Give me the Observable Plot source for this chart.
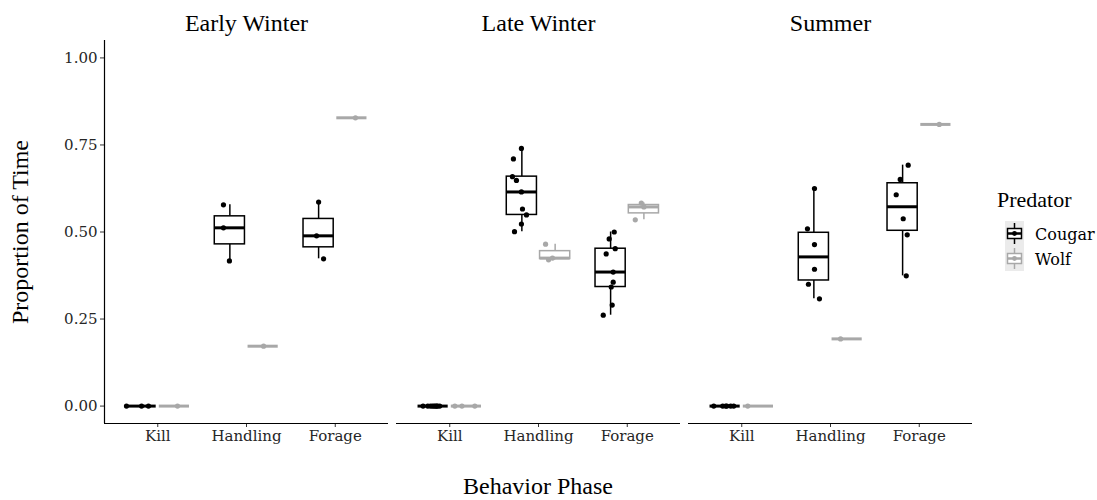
<!DOCTYPE html>
<html><head><meta charset="utf-8">
<script src="https://cdn.jsdelivr.net/npm/d3@7"></script>
<script src="https://cdn.jsdelivr.net/npm/@observablehq/plot@0.6"></script>
<style>
body{margin:0;background:#fff;}
#wrap{position:relative;width:1097px;height:500px;}
</style></head><body><div id="wrap"></div>
<script>
// ---------- data ----------
const seasons = ["Early Winter", "Late Winter", "Summer"];
const behaviors = ["Kill", "Handling", "Forage"];
const predators = ["Cougar", "Wolf"];
const yTicks = [0, 0.25, 0.5, 0.75, 1];

// proportion of time, per behavior (Kill, Handling, Forage)
const cougarEarlyWinter = [[0, 0, 0], [0.578, 0.512, 0.417], [0.586, 0.489, 0.423]];
const wolfEarlyWinter = [[0], [0.172], [0.828]];
const cougarLateWinter = [
  [0, 0, 0, 0, 0, 0, 0, 0, 0],
  [0.740, 0.710, 0.659, 0.648, 0.615, 0.566, 0.549, 0.523, 0.501],
  [0.500, 0.480, 0.452, 0.437, 0.385, 0.356, 0.342, 0.290, 0.261]
];
const wolfLateWinter = [[0, 0, 0], [0.465, 0.420, 0.425], [0.583, 0.535, 0.572]];
const cougarSummer = [
  [0, 0, 0, 0, 0, 0],
  [0.625, 0.509, 0.464, 0.393, 0.350, 0.308],
  [0.692, 0.651, 0.607, 0.538, 0.492, 0.374]
];
const wolfSummer = [[0], [0.193], [0.809]];

// horizontal jitter of each point (in category units)
const jitterCougarEarlyWinter = [[-0.165, 0.005, 0.083], [-0.072, -0.072, -0.005], [0, -0.023, 0.056]];
const jitterWolfEarlyWinter = [[0.035], [0.005], [0.04]];
const jitterCougarLateWinter = [
  [-0.113, -0.008, 0.026, 0.074, 0.05, -0.06, 0.01, 0.04, -0.03],
  [-0.005, -0.095, -0.106, -0.061, -0.005, 0.007, 0.052, -0.005, -0.083],
  [0.041, -0.016, 0.052, -0.05, 0.029, 0.029, 0.007, 0.018, -0.083]
];
const jitterWolfLateWinter = [[-0.13, -0.05, 0.095], [-0.108, -0.074, -0.03], [-0.029, -0.097, 0]];
const jitterCougarSummer = [
  [-0.128, -0.027, 0.007, 0.063, 0.097, 0.02],
  [0.007, -0.072, 0.007, 0.007, -0.061, 0.063],
  [0.063, -0.027, -0.072, 0.007, 0.052, 0.041]
];
const jitterWolfSummer = [[-0.12], [-0.074], [0.038]];

// ---------- build tables ----------
const groups = [
  {season: seasons[0], predator: "Cougar", values: cougarEarlyWinter, jitter: jitterCougarEarlyWinter},
  {season: seasons[0], predator: "Wolf", values: wolfEarlyWinter, jitter: jitterWolfEarlyWinter},
  {season: seasons[1], predator: "Cougar", values: cougarLateWinter, jitter: jitterCougarLateWinter},
  {season: seasons[1], predator: "Wolf", values: wolfLateWinter, jitter: jitterWolfLateWinter},
  {season: seasons[2], predator: "Cougar", values: cougarSummer, jitter: jitterCougarSummer},
  {season: seasons[2], predator: "Wolf", values: wolfSummer, jitter: jitterWolfSummer}
];
const dodge = {Cougar: -0.1875, Wolf: 0.1875};
const halfBox = 0.17;
const colors = ["#000000", "#a8a8a8"];
const points = [], boxes = [];
for (const g of groups) {
  behaviors.forEach((b, i) => {
    const vals = g.values[i];
    const center = i + 1 + dodge[g.predator];
    vals.forEach((v, k) => points.push({season: g.season, predator: g.predator, x: center + g.jitter[i][k], y: v}));
    const s = vals.slice().sort(d3.ascending);
    const q1 = d3.quantile(s, 0.25), q2 = d3.quantile(s, 0.5), q3 = d3.quantile(s, 0.75);
    const iqr = q3 - q1;
    const lo = d3.min(s.filter(v => v >= q1 - 1.5 * iqr));
    const hi = d3.max(s.filter(v => v <= q3 + 1.5 * iqr));
    boxes.push({season: g.season, predator: g.predator, x: center, x1: center - halfBox, x2: center + halfBox, q1, q2, q3, lo, hi});
  });
}

const tickFont = "'DejaVu Serif', serif";
const chart = Plot.plot({
  width: 1097, height: 500,
  marginLeft: 104, marginRight: 125, marginTop: 40, marginBottom: 77,
  style: {fontFamily: "'Liberation Serif', serif", background: "#fff", color: "#000"},
  fx: {domain: seasons, paddingInner: 0.028, paddingOuter: 0, label: null},
  x: {domain: [0.4, 3.6], label: null},
  y: {domain: [-0.05, 1.05], label: null},
  color: {domain: predators, range: colors},
  marks: [
    Plot.axisFx({anchor: "top", tickSize: 0, tickPadding: 10, fontSize: 24, label: null}),
    Plot.axisY(yTicks, {tickFormat: d3.format(".2f"), tickSize: 4, tickPadding: 3, fontSize: 15, fontFamily: tickFont, fill: "#262626", stroke: "#333", label: null}),
    Plot.axisX([1, 2, 3], {tickFormat: d => behaviors[d - 1], tickSize: 4, tickPadding: 3, fontSize: 15, fontFamily: tickFont, fill: "#262626", stroke: "#333", label: null}),
    Plot.ruleY([-0.05], {stroke: "#000", strokeWidth: 1.2}),
    Plot.ruleX([seasons[0]], {fx: d => d, x: () => 0.4, y1: () => -0.05, y2: () => 1.05, stroke: "#000", strokeWidth: 1.2}),
    Plot.ruleX(boxes, {fx: "season", x: "x", y1: "lo", y2: "q1", stroke: "predator", strokeWidth: 1.5}),
    Plot.ruleX(boxes, {fx: "season", x: "x", y1: "q3", y2: "hi", stroke: "predator", strokeWidth: 1.5}),
    Plot.rect(boxes, {fx: "season", x1: "x1", x2: "x2", y1: "q1", y2: "q3", fill: "white", stroke: "predator", strokeWidth: 1.5}),
    Plot.ruleY(boxes, {fx: "season", x1: "x1", x2: "x2", y: "q2", stroke: "predator", strokeWidth: 3}),
    Plot.dot(points, {fx: "season", x: "x", y: "y", r: 2.6, fill: "predator", stroke: "none"})
  ]
});

const svg = d3.select(chart);
svg.append("text").attr("transform", "translate(28,232) rotate(-90)")
  .attr("text-anchor", "middle").attr("font-size", 24).attr("font-family", "'Liberation Serif', serif")
  .attr("fill", "#000").text("Proportion of Time");
svg.append("text").attr("x", 538).attr("y", 494)
  .attr("text-anchor", "middle").attr("font-size", 24).attr("font-family", "'Liberation Serif', serif")
  .attr("fill", "#000").text("Behavior Phase");

// legend
const lg = svg.append("g").attr("transform", "translate(997,0)").attr("text-anchor", "start");
lg.append("text").attr("x", 0).attr("y", 207).attr("font-size", 22).attr("text-anchor", "start")
  .attr("font-family", "'Liberation Serif', serif").attr("fill", "#000").text("Predator");
predators.forEach((p, i) => {
  const y0 = 221 + i * 25, c = colors[i];
  const k = lg.append("g").attr("transform", `translate(8,${y0})`);
  k.append("rect").attr("x", 0).attr("y", 0).attr("width", 19).attr("height", 25).attr("fill", "#ebebeb");
  k.append("line").attr("x1", 9.5).attr("x2", 9.5).attr("y1", 2).attr("y2", 23).attr("stroke", c).attr("stroke-width", 1.5);
  k.append("rect").attr("x", 2.5).attr("y", 7.5).attr("width", 14).attr("height", 10).attr("fill", "#fff").attr("stroke", c).attr("stroke-width", 1.5);
  k.append("line").attr("x1", 2.5).attr("x2", 16.5).attr("y1", 12.5).attr("y2", 12.5).attr("stroke", c).attr("stroke-width", 2.5);
  k.append("circle").attr("cx", 9.5).attr("cy", 12.5).attr("r", 2.4).attr("fill", c);
  lg.append("text").attr("x", 38).attr("y", y0 + 13).attr("dy", "0.35em").attr("font-size", 16).attr("text-anchor", "start")
    .attr("font-family", tickFont).attr("fill", "#000").text(p);
});

document.getElementById("wrap").appendChild(chart);
</script></body></html>
